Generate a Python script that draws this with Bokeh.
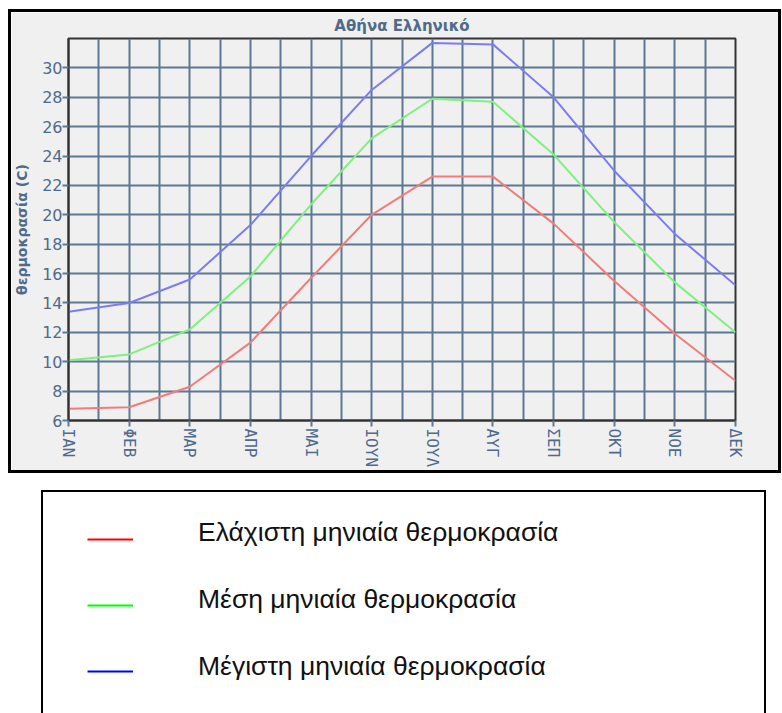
from bokeh.plotting import figure
from bokeh.models import (Range1d, FixedTicker, Legend, LegendItem)
from bokeh.embed import file_html
from bokeh.resources import INLINE

# ---- data ----
title_text = "Αθήνα Ελληνικό"
y_label = "θερμοκρασία (C)"
months = ["ΙΑΝ", "ΦΕΒ", "ΜΑΡ", "ΑΠΡ", "ΜΑΙ", "ΙΟΥΝ", "ΙΟΥΛ", "ΑΥΓ", "ΣΕΠ", "ΟΚΤ", "ΝΟΕ", "ΔΕΚ"]
t_min = [6.8, 6.9, 8.3, 11.3, 15.7, 20.0, 22.6, 22.6, 19.4, 15.5, 11.9, 8.7]
t_mean = [10.1, 10.5, 12.2, 15.8, 20.7, 25.2, 27.9, 27.7, 24.1, 19.5, 15.4, 12.0]
t_max = [13.4, 14.0, 15.6, 19.3, 24.0, 28.5, 31.7, 31.6, 28.0, 23.0, 18.7, 15.2]
y_ticks = [6, 8, 10, 12, 14, 16, 18, 20, 22, 24, 26, 28, 30]
legend_labels = ["Ελάχιστη μηνιαία θερμοκρασία", "Μέση μηνιαία θερμοκρασία", "Μέγιστη μηνιαία θερμοκρασία"]

x = list(range(len(months)))
slate = "#4f6b8a"
grid_col = "#5d7893"

# ---- chart (3px black box drawn as CSS border) ----
p = figure(width=767, height=458, x_range=Range1d(0, len(months) - 1), y_range=Range1d(6, 32),
           output_backend="svg", toolbar_location=None, title=title_text,
           min_border_left=55, min_border_right=49, min_border_top=26, min_border_bottom=56,
           styles={"margin-left": "8px", "margin-top": "9px", "box-sizing": "content-box",
                   "border": "3px solid black"})
p.background_fill_color = "#f0f0f0"
p.border_fill_color = "#f0f0f0"
p.outline_line_color = "#333333"
p.outline_line_width = 2

p.title.align = "center"
p.title.vertical_align = "top"
p.title.text_font = "DejaVu Sans"
p.title.text_font_size = "15px"
p.title.text_font_style = "bold"
p.title.text_color = slate
p.title.standoff = 4

p.line(x, t_min, line_color="#f27c7c", line_width=2)
p.line(x, t_mean, line_color="#7cf27c", line_width=2)
p.line(x, t_max, line_color="#7c7cf2", line_width=2)

p.xaxis.ticker = FixedTicker(ticks=x)
p.xaxis.major_label_overrides = {i: m for i, m in enumerate(months)}
p.xaxis.major_label_orientation = "vertical"
p.xaxis.major_label_text_font = "DejaVu Sans Mono"
p.xaxis.major_label_text_font_size = "16px"
p.xaxis.major_label_text_color = slate
p.xaxis.major_label_standoff = 2

p.yaxis.ticker = FixedTicker(ticks=y_ticks)
p.yaxis.major_label_text_font = "DejaVu Sans"
p.yaxis.major_label_text_font_size = "16px"
p.yaxis.major_label_text_color = slate
p.yaxis.major_label_standoff = 0
p.yaxis.axis_label = y_label
p.yaxis.axis_label_text_font = "DejaVu Sans"
p.yaxis.axis_label_text_font_size = "14px"
p.yaxis.axis_label_text_font_style = "bold"
p.yaxis.axis_label_text_color = slate
p.yaxis.axis_label_standoff = 9

for ax in (p.xaxis[0], p.yaxis[0]):
    ax.axis_line_color = "#333333"
    ax.axis_line_width = 2
    ax.major_tick_line_color = grid_col
    ax.major_tick_line_width = 2
    ax.major_tick_in = 0
    ax.major_tick_out = 6
    ax.minor_tick_line_color = None

half_steps = [i / 2 for i in range(1, 2 * (len(months) - 1))]
p.xgrid.ticker = FixedTicker(ticks=half_steps)
p.ygrid.ticker = FixedTicker(ticks=y_ticks)
for g in (p.xgrid[0], p.ygrid[0]):
    g.grid_line_color = grid_col
    g.grid_line_width = 2
    g.grid_line_alpha = 1.0

# ---- legend panel (open-bottom box) ----
W2, H2 = 721, 221
q = figure(width=W2, height=H2, x_range=Range1d(0, 1), y_range=Range1d(0, 1),
           output_backend="svg", toolbar_location=None, min_border=0,
           x_axis_location=None, y_axis_location=None,
           styles={"margin-left": "41px", "margin-top": "17px", "box-sizing": "content-box",
                   "border-left": "2px solid black", "border-top": "2px solid black",
                   "border-right": "2px solid black"})
q.grid.visible = False
q.outline_line_color = None
q.background_fill_color = "white"
q.border_fill_color = "white"

nan = float("nan")
r1 = q.line(x=[nan], y=[nan], line_color="#ff0000", line_width=2)
r2 = q.line(x=[nan], y=[nan], line_color="#00ff00", line_width=2)
r3 = q.line(x=[nan], y=[nan], line_color="#0000ff", line_width=2)
renderers = [r1, r2, r3]

common = dict(padding=0, margin=0, spacing=36, glyph_height=30, label_height=30,
              label_text_font="Liberation Sans", label_text_font_size="26.5px",
              label_text_color="#111111", border_line_color=None, background_fill_alpha=0)

# colour samples
leg_glyphs = Legend(items=[LegendItem(label=" ", renderers=[r]) for r in renderers],
                    location=(44, 29), glyph_width=46, label_standoff=0, **common)
# texts (slightly raised relative to the samples, as in the reference)
leg_texts = Legend(items=[LegendItem(label=lab, renderers=[r]) for lab, r in zip(legend_labels, renderers)],
                   location=(44, 33), glyph_width=0, label_standoff=111, **common)
q.add_layout(leg_glyphs)
q.add_layout(leg_texts)

open("out.html", "w").write(file_html([p, q], INLINE))
